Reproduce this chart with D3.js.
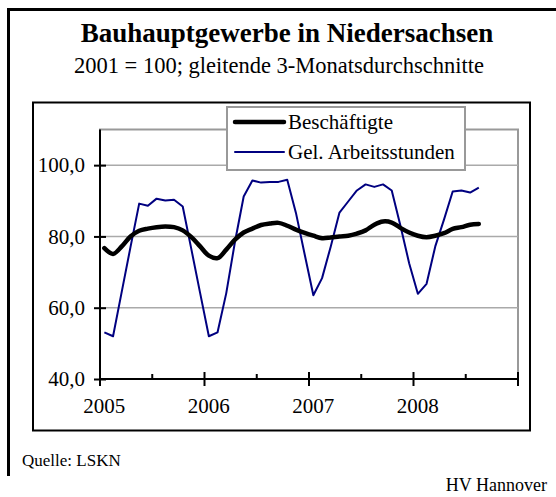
<!DOCTYPE html>
<html>
<head>
<meta charset="utf-8">
<script src="https://cdn.jsdelivr.net/npm/d3@7"></script>
<style>
  body { margin: 0; background: #fff; }
  svg { display: block; font-family: "Liberation Serif", "Times New Roman", serif; }
</style>
</head>
<body>
<div id="chart"></div>
<script>
'use strict';

const width = 556;
const height = 497;

// data: monthly values, Jan 2005 .. Aug 2008
const years = ['2005', '2006', '2007', '2008'];
const monthsPerYear = 12;

const beschaeftigte = [
    76.7, 75.1, 77.2, 80.0, 81.6, 82.2, 82.6, 82.8, 82.6, 81.7, 79.8, 77.2,
    74.6, 73.9, 76.3, 79.1, 81.1, 82.2, 83.2, 83.6, 83.8, 83.0, 81.9, 81.0,
    80.2, 79.5, 79.7, 80.0, 80.2, 80.8, 81.7, 83.3, 84.2, 83.9, 82.4, 81.1,
    80.2, 79.8, 80.2, 80.9, 82.1, 82.6, 83.3, 83.5
];

const arbeitsstunden = [
    53.1, 52.0, 64.5, 77.0, 89.2, 88.6, 90.6, 90.1, 90.3, 88.4, 76.3, 64.1,
    52.0, 53.1, 64.1, 78.5, 91.2, 95.7, 95.1, 95.3, 95.3, 95.9, 86.6, 75.0,
    63.5, 68.3, 77.2, 86.7, 89.8, 92.9, 94.6, 93.9, 94.6, 92.9, 83.0, 72.5,
    63.9, 66.7, 77.2, 84.7, 92.6, 92.9, 92.3, 93.7
];

const yTicks = [40, 60, 80, 100];
const seriesNames = ['Beschäftigte', 'Gel. Arbeitsstunden'];

const plot = { left: 100, right: 518, top: 129.5, bottom: 379 };

const nMonths = years.length * monthsPerYear;
const x = d3.scaleBand()
    .domain(d3.range(nMonths))
    .range([plot.left, plot.right]);

const y = d3.scaleLinear()
    .domain([40, 110])
    .range([plot.bottom, plot.top]);

const fmt = v => d3.format('.1f')(v).replace('.', ',');

let svg = d3.select('#chart').append('svg')
    .attr('width', width)
    .attr('height', height);

// outer frame (top + left)
svg.append('path')
    .attr('d', 'M8.5,476V9.5H556')
    .attr('fill', 'none')
    .attr('stroke', '#000')
    .attr('stroke-width', 3);

svg.append('text')
    .attr('x', 287).attr('y', 42)
    .attr('text-anchor', 'middle')
    .attr('font-size', 27)
    .attr('font-weight', 'bold')
    .text('Bauhauptgewerbe in Niedersachsen');

svg.append('text')
    .attr('x', 279).attr('y', 73)
    .attr('text-anchor', 'middle')
    .attr('font-size', 22.5)
    .text('2001 = 100; gleitende 3-Monatsdurchschnitte');

// chart box
svg.append('rect')
    .attr('x', 33).attr('y', 102.5)
    .attr('width', 497).attr('height', 328)
    .attr('fill', '#fff')
    .attr('stroke', '#000')
    .attr('stroke-width', 2);

// plot area border
svg.append('rect')
    .attr('x', plot.left).attr('y', plot.top)
    .attr('width', plot.right - plot.left).attr('height', plot.bottom - plot.top)
    .attr('fill', 'none')
    .attr('stroke', '#999')
    .attr('stroke-width', 2);

// gridlines
svg.append('g')
    .selectAll('line')
    .data(yTicks.slice(1))
    .join('line')
    .attr('x1', plot.left).attr('x2', plot.right)
    .attr('y1', d => y(d)).attr('y2', d => y(d))
    .attr('stroke', '#aaa')
    .attr('stroke-width', 1.5);

// y axis
const yAxis = svg.append('g')
    .attr('transform', `translate(${plot.left},0)`)
    .call(d3.axisLeft(y).tickValues(yTicks).tickSize(6).tickFormat(fmt));
yAxis.select('.domain').remove();
yAxis.selectAll('.tick line')
    .attr('x1', 6).attr('x2', -6)
    .attr('stroke', '#000').attr('stroke-width', 2);
yAxis.selectAll('.tick text')
    .attr('x', -15)
    .attr('font-family', 'Liberation Serif, serif')
    .attr('font-size', 21)
    .attr('fill', '#000');
svg.append('line')
    .attr('x1', plot.left).attr('x2', plot.left)
    .attr('y1', plot.top).attr('y2', plot.bottom)
    .attr('stroke', '#000').attr('stroke-width', 2);

// x axis: ticks on band boundaries
const boundary = i => i < nMonths ? x(i) : plot.right;
const majorTicks = d3.range(0, nMonths + 1, monthsPerYear);
const minorTicks = d3.range(6, nMonths, monthsPerYear);

const xAxis = svg.append('g');
xAxis.append('line')
    .attr('x1', plot.left).attr('x2', plot.right)
    .attr('y1', plot.bottom).attr('y2', plot.bottom)
    .attr('stroke', '#000').attr('stroke-width', 2);
xAxis.selectAll('line.major')
    .data(majorTicks)
    .join('line')
    .attr('class', 'major')
    .attr('x1', d => boundary(d)).attr('x2', d => boundary(d))
    .attr('y1', plot.bottom - 7).attr('y2', plot.bottom + 7)
    .attr('stroke', '#000').attr('stroke-width', 2);
xAxis.selectAll('line.minor')
    .data(minorTicks)
    .join('line')
    .attr('class', 'minor')
    .attr('x1', d => boundary(d)).attr('x2', d => boundary(d))
    .attr('y1', plot.bottom - 5).attr('y2', plot.bottom)
    .attr('stroke', '#000').attr('stroke-width', 2);
xAxis.selectAll('text')
    .data(years)
    .join('text')
    .attr('x', (d, i) => x(i * monthsPerYear) + x.bandwidth() / 2)
    .attr('y', 413)
    .attr('text-anchor', 'middle')
    .attr('font-size', 21)
    .text(d => d);

// lines
const line = d3.line()
    .x((d, i) => x(i) + x.bandwidth() / 2)
    .y(d => y(d));

svg.append('path')
    .datum(arbeitsstunden)
    .attr('d', line)
    .attr('fill', 'none')
    .attr('stroke', '#000080')
    .attr('stroke-width', 2)
    .attr('stroke-linejoin', 'round');

svg.append('path')
    .datum(beschaeftigte)
    .attr('d', line.curve(d3.curveCatmullRom))
    .attr('fill', 'none')
    .attr('stroke', '#000')
    .attr('stroke-width', 4.5)
    .attr('stroke-linejoin', 'round')
    .attr('stroke-linecap', 'round');

// legend
const legend = svg.append('g');
legend.append('rect')
    .attr('x', 227).attr('y', 107)
    .attr('width', 238).attr('height', 63)
    .attr('fill', '#fff')
    .attr('stroke', '#999')
    .attr('stroke-width', 2);

const legendItems = [
    { name: seriesNames[0], color: '#000', w: 4.5, y: 122 },
    { name: seriesNames[1], color: '#000080', w: 2, y: 152 }
];
legend.selectAll('line')
    .data(legendItems)
    .join('line')
    .attr('x1', 235).attr('x2', 284)
    .attr('y1', d => d.y).attr('y2', d => d.y)
    .attr('stroke', d => d.color)
    .attr('stroke-width', d => d.w)
    .attr('stroke-linecap', 'round');
legend.selectAll('text')
    .data(legendItems)
    .join('text')
    .attr('x', 288)
    .attr('y', d => d.y + 7)
    .attr('font-size', 21)
    .text(d => d.name);

// footer
svg.append('text')
    .attr('x', 22).attr('y', 466)
    .attr('font-size', 17)
    .text('Quelle: LSKN');

svg.append('text')
    .attr('x', 547).attr('y', 491)
    .attr('text-anchor', 'end')
    .attr('font-size', 18)
    .text('HV Hannover');
</script>
</body>
</html>
